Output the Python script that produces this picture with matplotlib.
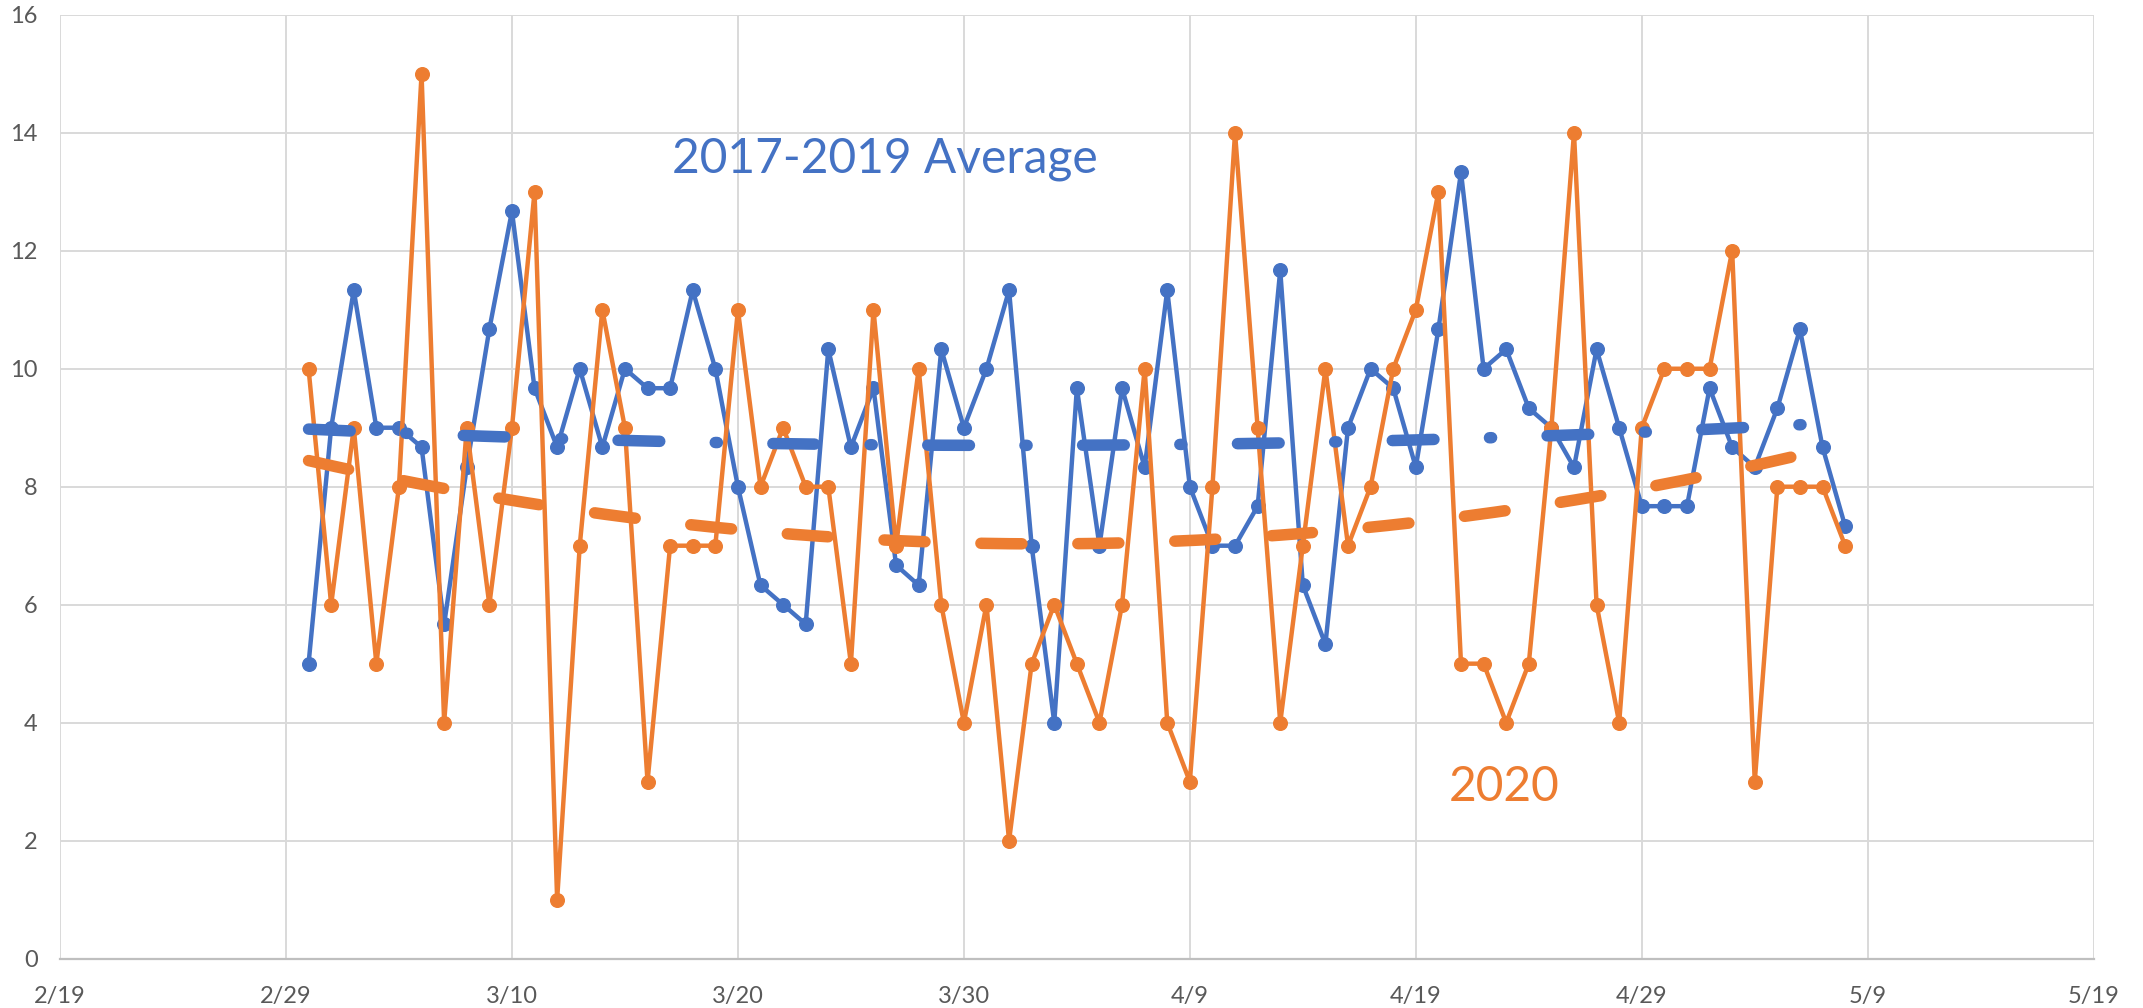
"""Daily counts, 2020 vs 2017-2019 average, with polynomial trend lines."""

import matplotlib
matplotlib.use("Agg")
import matplotlib.pyplot as plt
import numpy as np
import pandas as pd

plt.rcParams.update({
    "font.family": ["Lato", "DejaVu Sans"],
    "lines.scale_dashes": False,
})

BLUE = "#4472C4"
ORANGE = "#ED7D31"

START = "2020-03-01"
END = "2020-05-08"

avg_2017_2019 = [
    5, 9, 11.33, 9, 9, 8.67, 5.67, 8.33, 10.67, 12.67,
    9.67, 8.67, 10, 8.67, 10, 9.67, 9.67, 11.33, 10, 8,
    6.33, 6, 5.67, 10.33, 8.67, 9.67, 6.67, 6.33, 10.33, 9,
    10, 11.33, 7, 4, 9.67, 7, 9.67, 8.33, 11.33, 8,
    7, 7, 7.67, 11.67, 6.33, 5.33, 9, 10, 9.67, 8.33,
    10.67, 13.33, 10, 10.33, 9.33, 9, 8.33, 10.33, 9, 7.67,
    7.67, 7.67, 9.67, 8.67, 8.33, 9.33, 10.67, 8.67, 7.33,
]
counts_2020 = [
    10, 6, 9, 5, 8, 15, 4, 9, 6, 9,
    13, 1, 7, 11, 9, 3, 7, 7, 7, 11,
    8, 9, 8, 8, 5, 11, 7, 10, 6, 4,
    6, 2, 5, 6, 5, 4, 6, 10, 4, 3,
    8, 14, 9, 4, 7, 10, 7, 8, 10, 11,
    13, 5, 5, 4, 5, 9, 14, 6, 4, 9,
    10, 10, 10, 12, 3, 8, 8, 8, 7,
]
tick_dates = pd.date_range("2020-02-19", "2020-05-19", freq="10D")
y_ticks = list(range(0, 17, 2))


def trend(values, dates):
    # Excel-style order-2 polynomial trendline
    x = np.arange(len(values))
    coef = np.polyfit(x, values, 2)
    xf = np.linspace(0, len(values) - 1, 400)
    df = dates[0] + pd.to_timedelta(xf, unit="D")
    return df, np.polyval(coef, xf)


def main():
    dates = pd.date_range(START, END, freq="D")

    fig = plt.figure(figsize=(21.43, 10.08), dpi=100)
    ax = fig.add_axes([0.028, 0.049, 0.949, 0.9363])

    ax.plot(dates, avg_2017_2019, color=BLUE, lw=3.2, marker="o", ms=9.8,
            zorder=3)
    ax.plot(dates, counts_2020, color=ORANGE, lw=3.2, marker="o", ms=9.8,
            zorder=4)

    td, tv = trend(avg_2017_2019, dates)
    ax.plot(td, tv, color=BLUE, lw=8.3, dashes=[30, 40, 1.5, 40],
            dash_capstyle="round", zorder=5)
    td, tv = trend(counts_2020, dates)
    ax.plot(td, tv, color=ORANGE, lw=8.3, dashes=[29.5, 40.3],
            dash_capstyle="round", zorder=6)

    ax.set_xlim(tick_dates[0], tick_dates[-1])
    ax.set_ylim(0, 16)
    ax.set_xticks(tick_dates)
    ax.set_xticklabels([f"{d.month}/{d.day}" for d in tick_dates])
    ax.set_yticks(y_ticks)
    ax.grid(True, color="#D9D9D9", lw=1.4, zorder=0)
    ax.set_axisbelow(True)
    for s in ("top", "right", "left"):
        ax.spines[s].set_visible(False)
    ax.spines["bottom"].set_color("#BFBFBF")
    ax.spines["bottom"].set_linewidth(1.6)
    ax.tick_params(axis="both", length=0, labelsize=17, colors="#595959")
    ax.tick_params(axis="x", pad=20)
    ax.tick_params(axis="y", pad=16)

    ax.text(pd.Timestamp("2020-03-26 12:00"), 13.32, "2017-2019 Average",
            color=BLUE, fontsize=34.5, ha="center", va="baseline")
    ax.text(pd.Timestamp("2020-04-22 22:00"), 2.67, "2020",
            color=ORANGE, fontsize=34.5, ha="center", va="baseline")

    fig.savefig("out.png", dpi=100)
    plt.close(fig)


if __name__ == "__main__":
    main()
